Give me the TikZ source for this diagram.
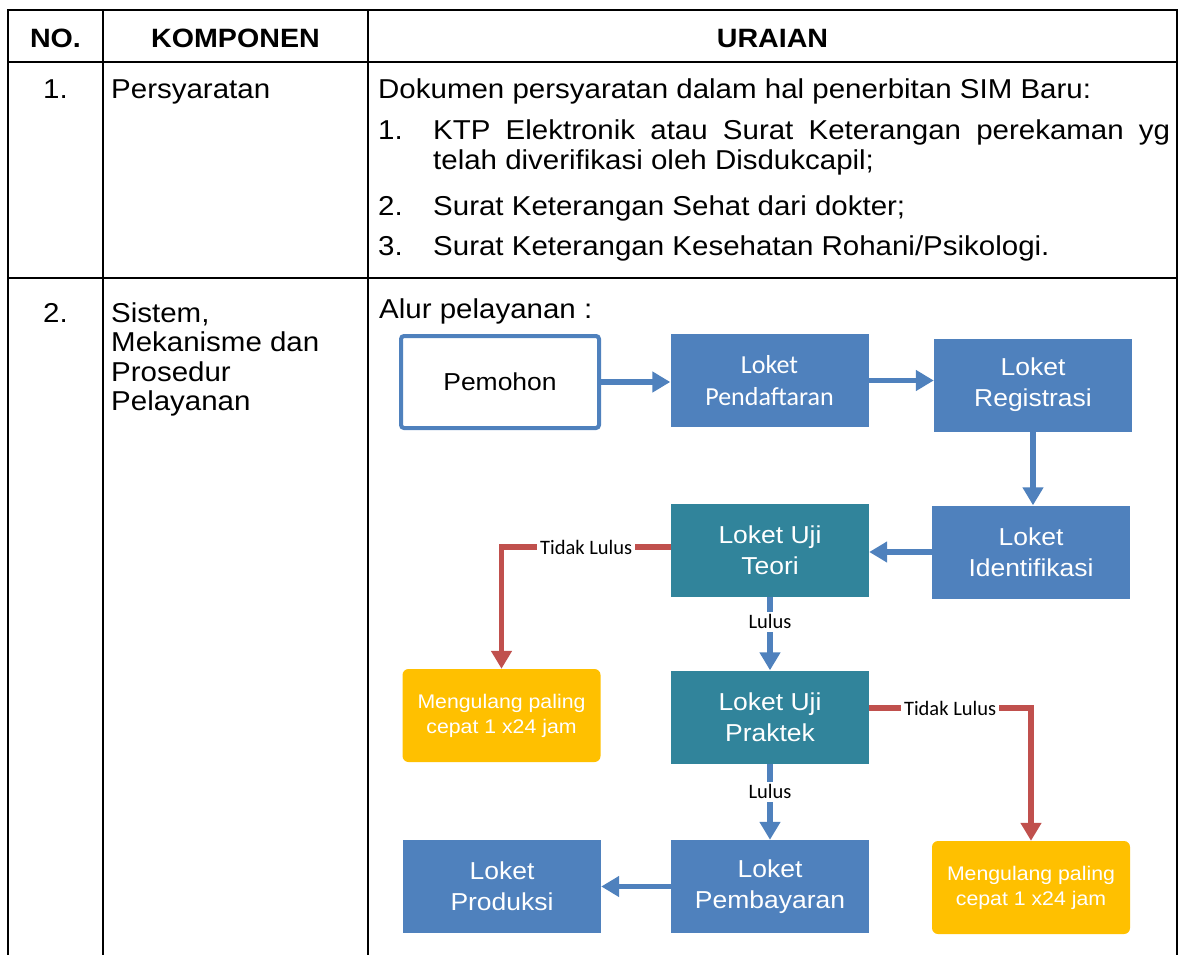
\documentclass[tikz,border=0pt]{standalone}
\usepackage{fontspec}
\setmainfont{Liberation Sans}[FakeStretch=1.08]
\newfontfamily\calibri{Carlito}
\usetikzlibrary{arrows.meta}
\definecolor{boxblue}{HTML}{4F81BD}
\definecolor{boxteal}{HTML}{31849B}
\definecolor{boxyellow}{HTML}{FFC000}
\definecolor{linered}{HTML}{C0504D}

\begin{document}
\begin{tikzpicture}[x=1pt, y=-1pt,
    grid/.style={line width=2.5pt},
    teks/.style={anchor=base west, inner sep=0pt, font=\fontsize{27.3}{30}\selectfont},
    judul/.style={anchor=base, inner sep=0pt, font=\fontsize{26.5}{30}\selectfont\bfseries},
    loket/.style={fill=boxblue, text=white, minimum width=198pt, minimum height=93pt,
        align=center, inner sep=0pt, font=\fontsize{24.5}{31}\selectfont},
    uji/.style={loket, fill=boxteal},
    ulang/.style={loket, fill=boxyellow, rounded corners=6pt, font=\fontsize{19.7}{25}\selectfont},
    alur/.style={-{Triangle[width=20pt,length=18pt]}, line width=5.5pt, boxblue},
    gagal/.style={alur, linered},
    ket/.style={font=\calibri\fontsize{20.5}{24}\selectfont, text=black, fill=white, inner sep=3pt}]
        \useasboundingbox (0,0) rectangle (1181,955);
        % table
        \draw[grid] (8,955) -- (8,10) -- (1177,10) -- (1177,955);
        \draw[grid] (8,62) -- (1177,62);
        \draw[grid] (8,278) -- (1177,278);
        \draw[grid] (103,10) -- (103,955);
        \draw[grid] (368,10) -- (368,955);
        \node[judul] (hno) at (55.5,48) {NO.};
        \node[judul] (hkomp) at (235.5,48) {KOMPONEN};
        \node[judul] (hurai) at (772.5,48) {URAIAN};
        % row 1
        \node[teks, anchor=base] (no1) at (55.5,99) {1.};
        \node[teks] (komp1) at (111,99) {Persyaratan};
        \node[teks] (urai1) at (378,99) {Dokumen persyaratan dalam hal penerbitan SIM Baru:};
        \node[teks] (n1) at (378,140) {1.};
        \node[teks] (s1) at (433,140) {\makebox[737pt][s]{KTP Elektronik atau Surat Keterangan perekaman yg}};
        \node[teks] (s1b) at (433,169) {telah diverifikasi oleh Disdukcapil;};
        \node[teks] (n2) at (378,215) {2.};
        \node[teks] (s2) at (433,215) {Surat Keterangan Sehat dari dokter;};
        \node[teks] (n3) at (378,255) {3.};
        \node[teks] (s3) at (433,255) {Surat Keterangan Kesehatan Rohani/Psikologi.};
        % row 2
        \node[teks, anchor=base] (no2) at (55.5,322) {2.};
        \node[teks] (komp2a) at (111,322) {Sistem,};
        \node[teks] (komp2b) at (111,351) {Mekanisme dan};
        \node[teks] (komp2c) at (111,381) {Prosedur};
        \node[teks] (komp2d) at (111,410) {Pelayanan};
        \node[teks] (alurtxt) at (379,318) {Alur pelayanan :};
        % flow
        \node[loket, fill=white, text=black, draw=boxblue, line width=4pt, rounded corners=3pt,
            minimum height=92pt] (pemohon) at (500,382) {Pemohon};
        \node[loket, font=\calibri\fontsize{26}{32}\selectfont] (daftar) at (769.5,380.5) {Loket\\Pendaftaran};
        \node[loket] (registrasi) at (1033,385) {Loket\\Registrasi};
        \node[loket] (identifikasi) at (1031,552) {Loket\\Identifikasi};
        \node[uji] (teori) at (770,550) {Loket Uji\\Teori};
        \node[uji] (praktek) at (770,717) {Loket Uji\\Praktek};
        \node[ulang] (ulang1) at (501.5,715.5) {Mengulang paling\\cepat 1 x24 jam};
        \node[loket] (bayar) at (770,886.5) {Loket\\Pembayaran};
        \node[loket] (produksi) at (502,886.5) {Loket\\Produksi};
        \node[ulang] (ulang2) at (1031,887.5) {Mengulang paling\\cepat 1 x24 jam};
        \draw[alur] (pemohon.east) -- (pemohon.east -| daftar.west);
        \draw[alur] (daftar.east) -- (daftar.east -| registrasi.west);
        \draw[alur] (registrasi.south) -- (registrasi.south |- identifikasi.north);
        \draw[alur] (identifikasi.west) -- (identifikasi.west -| teori.east);
        \draw[alur] (teori.south) -- node[ket, pos=0.34] {Lulus} (praktek.north);
        \draw[alur] (praktek.south) -- node[ket, pos=0.37] {Lulus} (bayar.north);
        \draw[alur] (bayar.west) -- (bayar.west -| produksi.east);
        \draw[gagal] ([yshift=3pt]teori.west) -| node[ket, pos=0.25] {Tidak Lulus} (ulang1.north);
        \draw[gagal] ([yshift=9pt]praktek.east) -| node[ket, pos=0.25] {Tidak Lulus} (ulang2.north);
\end{tikzpicture}
\end{document}
